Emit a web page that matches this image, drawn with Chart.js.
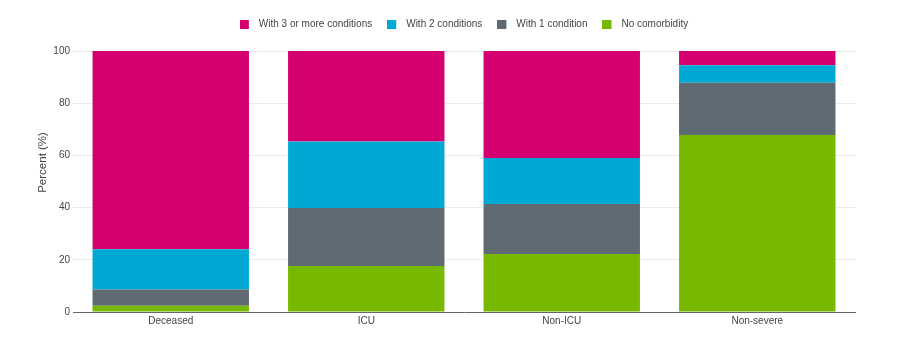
<!DOCTYPE html>
<html>
<head>
<meta charset="utf-8">
<script src="https://cdn.jsdelivr.net/npm/chart.js@4/dist/chart.umd.min.js"></script>
<style>
  html, body { margin: 0; padding: 0; background: #fff; }
  #wrap { width: 900px; height: 340px; position: relative; }
</style>
</head>
<body>
<div id="wrap"><canvas id="chart"></canvas></div>
<script>
// Share of patients by number of comorbidities, per outcome group (%)
const categories = ['Deceased', 'ICU', 'Non-ICU', 'Non-severe'];
const noComorbidity   = [2.4, 17.6, 22.2, 67.8];
const oneCondition    = [6.2, 22.2, 19.2, 20.0];
const twoConditions   = [15.4, 25.5, 17.6, 6.7];
const threeOrMore     = [76.0, 34.7, 41.0, 5.5];
const yTicks = [0, 20, 40, 60, 80, 100];
const yTitle = 'Percent (%)';

const COLORS = {
  none: '#76b900',
  one: '#5f6a72',
  two: '#00a9d4',
  three: '#d5006f'
};

const FONT = 'Liberation Sans, Arial, sans-serif';
const SWATCH = 9;      // legend square size
const SWATCH_W = 14;   // room reserved for the square before the label text

// Legend marker: a small square sitting at the left of a slightly wider canvas,
// so the label text gets some breathing room after the square.
function swatch(color) {
  const c = document.createElement('canvas');
  c.width = SWATCH_W;
  c.height = SWATCH;
  const g = c.getContext('2d');
  g.fillStyle = color;
  g.fillRect(0, 0, SWATCH, SWATCH);
  return c;
}

// Extra room between the legend row and the plot area
const legendGap = {
  id: 'legendGap',
  beforeInit(chart) {
    const lg = chart.legend;
    if (!lg || lg._gapPatched) return;
    const fit = lg.fit;
    lg.fit = function () { fit.call(this); this.height += 12; };
    lg._gapPatched = true;
  }
};

// Rotated y-axis title, placed a little above the middle of the plot
const yAxisTitle = {
  id: 'yAxisTitle',
  afterDraw(chart) {
    const { ctx, chartArea } = chart;
    const y = chartArea.top + (chartArea.bottom - chartArea.top) * 0.427;
    ctx.save();
    ctx.translate(43, y);
    ctx.rotate(-Math.PI / 2);
    ctx.fillStyle = '#444';
    ctx.font = '11.5px ' + FONT;
    ctx.textAlign = 'center';
    ctx.textBaseline = 'middle';
    ctx.fillText(yTitle, 0, 0);
    ctx.restore();
  }
};

new Chart(document.getElementById('chart'), {
  type: 'bar',
  data: {
    labels: categories,
    datasets: [
      { label: 'No comorbidity', data: noComorbidity, backgroundColor: COLORS.none, pointStyle: swatch(COLORS.none) },
      { label: 'With 1 condition', data: oneCondition, backgroundColor: COLORS.one, pointStyle: swatch(COLORS.one) },
      { label: 'With 2 conditions', data: twoConditions, backgroundColor: COLORS.two, pointStyle: swatch(COLORS.two) },
      { label: 'With 3 or more conditions', data: threeOrMore, backgroundColor: COLORS.three, pointStyle: swatch(COLORS.three) }
    ]
  },
  plugins: [legendGap, yAxisTitle],
  options: {
    responsive: true,
    maintainAspectRatio: false,
    animation: false,
    layout: { padding: { left: 0, right: 45, top: 4, bottom: 10 } },
    datasets: { bar: { categoryPercentage: 1.0, barPercentage: 0.8, borderWidth: 0 } },
    plugins: {
      legend: {
        position: 'top',
        fullSize: false,
        reverse: true,
        labels: {
          usePointStyle: true,
          pointStyleWidth: SWATCH_W,
          boxHeight: SWATCH,
          padding: 15,
          color: '#444', font: { family: FONT, size: 10 }
        }
      },
      tooltip: { enabled: false }
    },
    scales: {
      x: {
        stacked: true,
        grid: { display: false, drawTicks: false },
        border: { display: true, color: '#666', width: 1 },
        ticks: { color: '#444', font: { family: FONT, size: 10 }, padding: 3 }
      },
      y: {
        stacked: true,
        min: 0, max: 100,
        afterBuildTicks: (s) => { s.ticks = yTicks.map(v => ({ value: v })); },
        afterFit: (s) => { s.width = 73; },
        grid: { color: '#ececec', drawTicks: false },
        border: { display: false },
        ticks: { color: '#444', font: { family: FONT, size: 10 }, padding: 3 },
        title: { display: false }
      }
    }
  }
});
</script>
</body>
</html>
